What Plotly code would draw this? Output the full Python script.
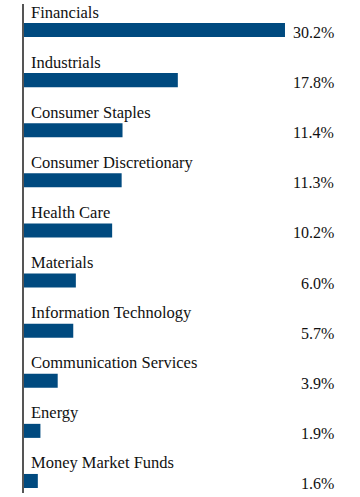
import plotly.graph_objects as go

categories = ["Financials", "Industrials", "Consumer Staples", "Consumer Discretionary",
              "Health Care", "Materials", "Information Technology",
              "Communication Services", "Energy", "Money Market Funds"]
values = [30.2, 17.8, 11.4, 11.3, 10.2, 6.0, 5.7, 3.9, 1.9, 1.6]
value_labels = [f"{v:.1f}%" for v in values]

positions = list(range(len(categories)))
bar_color = "#004a7f"
font_family = "Liberation Serif"

fig = go.Figure(go.Bar(
    x=values, y=positions, orientation="h",
    marker=dict(color=bar_color, line=dict(width=0)),
    width=0.28, hoverinfo="skip",
))

annotations = []
for pos, cat, lab in zip(positions, categories, value_labels):
    annotations.append(dict(x=0, y=pos, xref="x", yref="y", text=cat,
                            showarrow=False, xanchor="left", yanchor="middle",
                            xshift=5, yshift=18,
                            font=dict(family=font_family, size=16.5, color="#111")))
    annotations.append(dict(x=0.9226, y=pos, xref="paper", yref="y", text=lab,
                            showarrow=False, xanchor="right", yanchor="middle",
                            xshift=2, yshift=-2.5,
                            font=dict(family=font_family, size=16, color="#111")))

fig.update_layout(
    width=360, height=497,
    margin=dict(l=24, r=0, t=4, b=4),
    paper_bgcolor="white", plot_bgcolor="white",
    showlegend=False,
    font=dict(family=font_family),
    xaxis=dict(range=[0, 38.88], visible=False, fixedrange=True),
    yaxis=dict(range=[9.24, -0.519], showticklabels=False, ticks="",
               showgrid=False, zeroline=False, showline=True,
               linecolor="#555555", linewidth=1.5, fixedrange=True),
    annotations=annotations,
)

fig.write_html("out.html", config={"displayModeBar": False},
               post_script="document.body.style.margin='0';document.body.style.overflow='hidden';")
